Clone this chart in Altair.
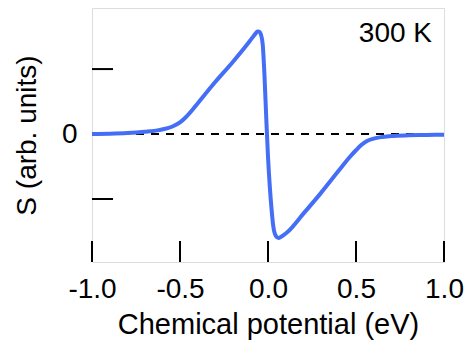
import altair as alt
import pandas as pd

# Chemical potential (eV) and Seebeck coefficient (arb. units)
mu = [-1.0, -0.9, -0.8, -0.7, -0.62, -0.57, -0.54, -0.5, -0.47, -0.43, -0.4, -0.3,
      -0.2, -0.13, -0.09, -0.07, -0.06, -0.05, -0.04, -0.03, -0.02, -0.01, 0.0, 0.01,
      0.02, 0.03, 0.045, 0.06, 0.075, 0.106, 0.2, 0.3, 0.4, 0.466, 0.5, 0.53, 0.56,
      0.6, 0.65, 0.7, 0.8, 0.9, 1.0]
S = [0.0, 0.005, 0.015, 0.035, 0.06, 0.09, 0.12, 0.18, 0.25, 0.37, 0.47, 0.80,
     1.11, 1.34, 1.48, 1.55, 1.58, 1.575, 1.53, 1.38, 0.9, 0.25, -0.35, -0.8,
     -1.15, -1.42, -1.57, -1.60, -1.58, -1.52, -1.23, -0.91, -0.57, -0.35, -0.25,
     -0.17, -0.11, -0.07, -0.045, -0.03, -0.02, -0.015, -0.01]

x_ticks = [-1.0, -0.5, 0.0, 0.5, 1.0]
y_ticks = [-1, 1]
y_labels = [0]
label_text = "300 K"

FONT = "Liberation Sans"
FS = 28

df = pd.DataFrame({"mu": mu, "S": S})
xt = pd.DataFrame({"v": x_ticks})
yt = pd.DataFrame({"v": y_ticks})

xscale = alt.Scale(domain=[-1.0, 1.0], nice=False, zero=False)
yscale = alt.Scale(domain=[-1.97, 1.94], nice=False, zero=False)

xaxis = alt.Axis(values=x_ticks, ticks=False, domain=False, grid=False,
                 labelExpr="datum.value < 0 ? '-' + format(-datum.value, '.1f') : format(datum.value, '.1f')",
                 labelPadding=13, labelFontSize=FS, labelFont=FONT, labelColor="black",
                 title="Chemical potential (eV)", titleFontSize=29, titleFont=FONT,
                 titleFontWeight="normal", titleColor="black", titlePadding=7,
                 labelFlush=False)
yaxis = alt.Axis(values=y_labels, format="d", ticks=False, domain=False, grid=False,
                 labelPadding=15, labelFontSize=FS, labelFont=FONT, labelColor="black",
                 title="S (arb. units)", titleFontSize=FS, titleFont=FONT,
                 titleFontWeight="normal", titleColor="black", titlePadding=20)

curve = alt.Chart(df).mark_line(color="#436ef5", strokeWidth=4, interpolate="monotone").encode(
    x=alt.X("mu:Q", scale=xscale, axis=xaxis),
    y=alt.Y("S:Q", scale=yscale, axis=yaxis),
)

zero = alt.Chart(pd.DataFrame({"z": [0]})).mark_rule(
    color="black", strokeWidth=2, strokeDash=[8, 7]
).encode(y=alt.Y("z:Q", scale=yscale))

xtick = alt.Chart(xt).mark_rule(color="black", strokeWidth=2).encode(
    x=alt.X("v:Q", scale=xscale), y=alt.value(233), y2=alt.value(254)
)
ytick = alt.Chart(yt).mark_rule(color="black", strokeWidth=2).encode(
    y=alt.Y("v:Q", scale=yscale), x=alt.value(0), x2=alt.value(21)
)

txt = alt.Chart(pd.DataFrame({"t": [label_text]})).mark_text(
    font=FONT, fontSize=FS, align="right", baseline="alphabetic", color="black"
).encode(x=alt.value(340), y=alt.value(34), text="t:N")

chart = alt.layer(zero, xtick, ytick, curve, txt).properties(
    width=352, height=254,
    autosize=alt.AutoSizeParams(type="none"),
    padding={"left": 92, "top": 8, "right": 29, "bottom": 84},
).configure_view(stroke="black", strokeWidth=2).configure(background="white")

chart.save("out.html", embed_options={"renderer": "svg", "actions": False})
